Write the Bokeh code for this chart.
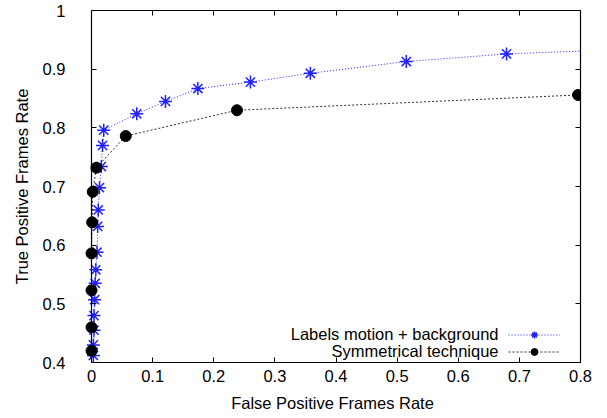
from bokeh.plotting import figure
from bokeh.models import (LinearAxis, FixedTicker, Label, Legend, LegendItem, Range1d,
                          CustomJSTickFormatter)
from bokeh.embed import file_html
from bokeh.resources import INLINE

# Data
labels_fpr = [0.003, 0.003, 0.004, 0.004, 0.005, 0.006, 0.007, 0.009, 0.010, 0.011,
              0.013, 0.016, 0.018, 0.020, 0.074, 0.121, 0.174, 0.260, 0.358, 0.515,
              0.679, 0.880]
labels_tpr = [0.412, 0.430, 0.455, 0.480, 0.507, 0.535, 0.558, 0.588, 0.632, 0.660,
              0.698, 0.734, 0.770, 0.796, 0.824, 0.845, 0.867, 0.878, 0.893, 0.913,
              0.926, 0.934]
sym_fpr = [0.0, 0.0, 0.0, 0.0, 0.001, 0.002, 0.008, 0.056, 0.238, 0.796]
sym_tpr = [0.420, 0.460, 0.523, 0.586, 0.639, 0.691, 0.732, 0.786, 0.830, 0.856]

x_ticks = [0, 0.1, 0.2, 0.3, 0.4, 0.5, 0.6, 0.7, 0.8]
y_ticks = [0.4, 0.5, 0.6, 0.7, 0.8, 0.9, 1.0]
x_tick_labels = ["0", "0.1", "0.2", "0.3", "0.4", "0.5", "0.6", "0.7", "0.8"]
y_tick_labels = ["0.4", "0.5", "0.6", "0.7", "0.8", "0.9", "1"]
series_names = ["Labels motion + background", "Symmetrical technique"]

FONT = "Liberation Sans"
FS = "16.5px"

p = figure(width=600, height=418, output_backend="svg", toolbar_location=None,
           x_range=Range1d(-0.0115, 0.8), y_range=Range1d(0.4, 1.0),
           min_border_left=84, min_border_right=20, min_border_top=10, min_border_bottom=56)
p.xgrid.visible = False
p.ygrid.visible = False
p.outline_line_color = None
p.background_fill_color = "white"
p.border_fill_color = "white"

def style_axis(ax, ticks, labels, show_labels=True):
    ax.ticker = FixedTicker(ticks=ticks)
    ax.minor_tick_line_color = None
    ax.major_tick_in = 5
    ax.major_tick_out = 0
    ax.axis_line_color = "black"
    ax.axis_line_width = 1.2
    ax.major_tick_line_color = "black"
    ax.major_label_text_color = "black"
    ax.major_label_text_font = FONT
    if show_labels:
        ax.major_label_text_font_size = FS
        ax.major_label_overrides = {t: l for t, l in zip(ticks, labels)}
    else:
        ax.major_label_text_font_size = "0px"
        ax.formatter = CustomJSTickFormatter(code="return ''")
        ax.major_label_standoff = 0

xa = p.xaxis[0]
ya = p.yaxis[0]
style_axis(xa, x_ticks, x_tick_labels)
style_axis(ya, y_ticks, y_tick_labels)
xa.bounds = (0, 0.8)
# primary left axis: labels only (line & ticks drawn by the axis fixed at x=0)
ya.axis_line_color = None
ya.major_tick_line_color = None
xa.major_label_standoff = 7
ya.major_label_standoff = 19
xa.axis_label = "False Positive Frames Rate"
ya.axis_label = "True Positive Frames Rate"
for ax in (xa, ya):
    ax.axis_label_text_font = FONT
    ax.axis_label_text_font_size = FS
    ax.axis_label_text_font_style = "normal"
    ax.axis_label_text_color = "black"
xa.axis_label_standoff = 9
ya.axis_label_standoff = 9

left0 = LinearAxis(fixed_location=0)
top = LinearAxis()
right = LinearAxis()
style_axis(left0, y_ticks, y_tick_labels, show_labels=False)
style_axis(top, x_ticks, x_tick_labels, show_labels=False)
style_axis(right, y_ticks, y_tick_labels, show_labels=False)
top.bounds = (0, 0.8)
p.add_layout(left0, "left")
p.add_layout(top, "above")
p.add_layout(right, "right")

blue = "#2020ff"
l1 = p.line(labels_fpr, labels_tpr, line_color=blue, line_width=1, line_dash="1 2")
s1 = p.scatter(labels_fpr, labels_tpr, marker="asterisk", size=13, line_color=blue, line_width=1.5)
l2 = p.line(sym_fpr, sym_tpr, line_color="#303030", line_width=1, line_dash="2 2")
s2 = p.scatter(sym_fpr, sym_tpr, marker="circle", size=11, fill_color="black", line_color="black")

legend = Legend(items=[LegendItem(label=" ", renderers=[l1, s1]),
                       LegendItem(label=" ", renderers=[l2, s2])],
                location=(424, 2), padding=0, margin=0, spacing=0,
                glyph_width=52, glyph_height=17, label_height=17, label_width=0,
                label_standoff=0, label_text_font_size=FS,
                border_line_alpha=0, background_fill_alpha=0)
p.add_layout(legend, "center")

for i, name in enumerate(series_names):
    p.add_layout(Label(x=414, y=[28.5, 11.5][i], x_units="screen", y_units="screen",
                       text=name, text_align="right", text_baseline="middle",
                       text_font=FONT, text_font_size=FS, text_color="black"))

open("out.html", "w").write(file_html(p, INLINE))
